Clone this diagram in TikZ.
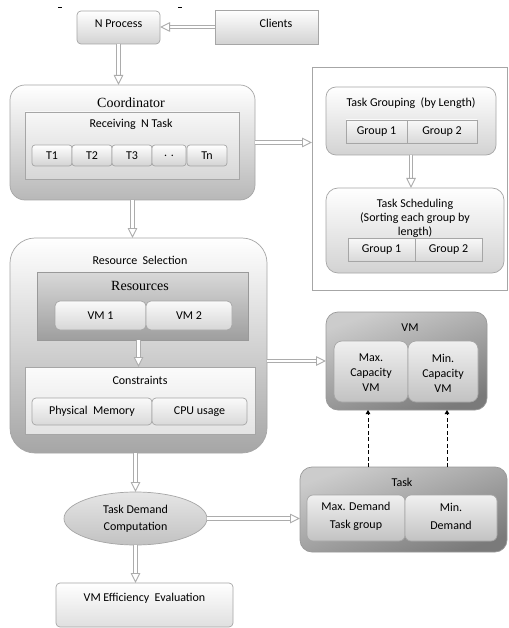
\documentclass[tikz,border=0pt]{standalone}
\usepackage{fontspec}
\setmainfont{Carlito}
\newfontfamily\serifx{Liberation Serif}
\usetikzlibrary{arrows.meta,shapes.geometric}
\newcommand\darr[2]{%
  \draw[gray!65, line width=0.9pt, double=white, double distance=2.4pt, shorten >=7pt] #1 -- #2;
  \draw[white, line width=0.2pt, -{Triangle[open, color=gray!65, fill=white, length=10pt, width=9.5pt, line width=0.9pt]}] #1 -- #2;}
\begin{document}
\begin{tikzpicture}[x=1pt,y=-1pt,
  lbox/.style={draw=gray!70, line width=0.7pt, top color=white, bottom color=gray!35, inner sep=0pt, outer sep=0pt},
  dbox/.style={draw=gray!80, line width=0.7pt, top color=gray!25, bottom color=gray!60, inner sep=0pt, outer sep=0pt},
  inbox/.style={lbox, top color=black!6, bottom color=black!24},
  txt/.style={font=\fontsize{12}{14}\selectfont, inner sep=0pt, align=center},
  stxt/.style={font=\serifx\fontsize{14}{16}\selectfont, inner sep=0pt},
  dash arrow/.style={black, line width=0.9pt, dashed, dash pattern=on 4pt off 2.5pt, -{Triangle[length=4pt,width=4.5pt]}}]
\useasboundingbox (0,0) rectangle (508,628);
\fill[white] (0,0) rectangle (508,628);
% small marks at the top
\draw[black, line width=0.8pt] (58,7) -- (62,7);
\draw[black, line width=0.8pt] (178,7) -- (182,7);

% top row
\node[lbox, rounded corners=4pt, minimum width=83pt, minimum height=33pt] (nproc) at (118.5,27.5) {};
\node[txt] at (118.5,24) {N Process};
\node[lbox, minimum width=103pt, minimum height=34pt] (clients) at (266.5,27) {};
\node[txt] at (276,23) {Clients};

% coordinator
\node[lbox, rounded corners=15pt, bottom color=black!28, minimum width=245pt, minimum height=115pt] (coord) at (132.5,142.5) {};
\node[stxt] at (131,103) {Coordinator};
\node[lbox, top color=gray!6, bottom color=gray!32, minimum width=214pt, minimum height=67pt] (recv) at (132,145.5) {};
\node[txt] at (131,124) {Receiving\ \ N Task};
\node[lbox, rounded corners=3pt, minimum width=40pt, minimum height=21pt, txt] (t1) at (52,155.5) {T1};
\node[lbox, rounded corners=3pt, minimum width=40pt, minimum height=21pt, txt] (t2) at (92,155.5) {T2};
\node[lbox, rounded corners=3pt, minimum width=40pt, minimum height=21pt, txt] (t3) at (132,155.5) {T3};
\node[lbox, rounded corners=3pt, minimum width=34pt, minimum height=21pt, txt] (tdots) at (169,155.5) {. .};
\node[lbox, rounded corners=3pt, minimum width=40pt, minimum height=21pt, txt] (tn) at (207,155.5) {Tn};

% right group frame
\node[draw=gray!70, line width=0.7pt, fill=white, minimum width=195pt, minimum height=223pt, inner sep=0pt, outer sep=0pt] (outer) at (409.5,178.5) {};
\node[lbox, rounded corners=10pt, minimum width=170pt, minimum height=68pt] (tg) at (411,121) {};
\node[txt] at (411,103) {Task Grouping\ \ (by Length)};
\node[lbox, top color=gray!5, bottom color=gray!30, minimum width=61pt, minimum height=23pt, txt] (g1a) at (376.5,131.5) {Group 1};
\node[lbox, top color=gray!5, bottom color=gray!30, minimum width=70pt, minimum height=23pt, txt] (g2a) at (442,131.5) {Group 2};
\node[lbox, rounded corners=12pt, minimum width=178pt, minimum height=85pt] (ts) at (415,230.5) {};
\node[txt] at (415,218) {Task Scheduling\\(Sorting each group by\\length)};
\node[lbox, top color=gray!5, bottom color=gray!30, minimum width=67pt, minimum height=23pt, txt] (g1b) at (381.5,249.5) {Group 1};
\node[lbox, top color=gray!5, bottom color=gray!30, minimum width=67pt, minimum height=23pt, txt] (g2b) at (448.5,249.5) {Group 2};

% resource selection
\node[lbox, rounded corners=25pt, bottom color=black!35, minimum width=257pt, minimum height=215pt] (ressel) at (138.5,345.5) {};
\node[txt] at (140,260) {Resource\ \ Selection};
\node[dbox, top color=black!15, bottom color=black!38, minimum width=211pt, minimum height=68pt] (res) at (142.5,306) {};
\node[stxt] at (140,286) {Resources};
\node[lbox, rounded corners=5pt, top color=gray!4, bottom color=gray!32, minimum width=91pt, minimum height=29pt, txt] (vm1) at (100.5,315.5) {VM 1};
\node[lbox, rounded corners=5pt, top color=gray!4, bottom color=gray!32, minimum width=86pt, minimum height=29pt, txt] (vm2) at (189,315.5) {VM 2};
\node[lbox, top color=gray!3, bottom color=gray!22, minimum width=230pt, minimum height=67pt] (cons) at (140,400.5) {};
\node[txt] at (140,380) {Constraints};
\node[lbox, rounded corners=4pt, top color=gray!4, bottom color=gray!30, minimum width=120pt, minimum height=27pt, txt] (pmem) at (92,411.5) {Physical\ \ Memory};
\node[lbox, rounded corners=4pt, top color=gray!4, bottom color=gray!30, minimum width=95pt, minimum height=27pt, txt] (cpu) at (199.5,411.5) {CPU usage};

% VM box
\node[dbox, rounded corners=12pt, top color=black!20, bottom color=black!52, shading angle=20, minimum width=161pt, minimum height=98pt] (vm) at (406.5,361) {};
\node[txt] at (410,328) {VM};
\node[inbox, rounded corners=8pt, minimum width=74pt, minimum height=61pt] (maxcap) at (371,371.5) {};
\node[txt, font=\fontsize{12}{15}\selectfont] at (371,373) {Max.\\Capacity\\VM};
\node[inbox, rounded corners=8pt, minimum width=70pt, minimum height=61pt] (mincap) at (443,371.5) {};
\node[txt, font=\fontsize{12}{15}\selectfont] at (443,373) {Min.\\Capacity\\VM};

% lower part
\node[ellipse, draw=gray!70, line width=0.7pt, top color=black!10, bottom color=black!24, minimum width=143pt, minimum height=53pt, inner sep=0pt, outer sep=0pt] (ell) at (135.5,518.5) {};
\node[txt, font=\fontsize{12}{17}\selectfont] at (135.5,519) {Task Demand\\Computation};
\node[lbox, rounded corners=4pt, top color=white, bottom color=gray!25, minimum width=177pt, minimum height=44pt] (vmee) at (144.5,605) {};
\node[txt] at (144.5,598) {VM Efficiency\ \ Evaluation};
\node[dbox, rounded corners=12pt, top color=black!20, bottom color=black!52, shading angle=20, minimum width=207pt, minimum height=85pt] (task) at (403.5,509.5) {};
\node[txt] at (402,482) {Task};
\node[inbox, rounded corners=6pt, minimum width=98pt, minimum height=46pt] (maxdem) at (356,518) {};
\node[txt, font=\fontsize{12}{18}\selectfont] at (356,516) {Max. Demand\\Task group};
\node[inbox, rounded corners=6pt, minimum width=92pt, minimum height=46pt] (mindem) at (451,518) {};
\node[txt, font=\fontsize{12}{18}\selectfont] at (451,516) {Min.\\Demand};

% connectors
\darr{(clients.west)}{(clients.west -| nproc.east)}
\darr{(nproc.south)}{(nproc.south |- coord.north)}
\darr{(coord.east)}{(coord.east -| outer.west)}
\darr{(coord.south)}{(coord.south |- ressel.north)}
\darr{(tg.south)}{(tg.south |- ts.north)}
\darr{(ressel.north |- res.south)}{(ressel.north |- cons.north)}
\darr{(vm.west -| ressel.east)}{(vm.west)}
\darr{(ell.north |- ressel.south)}{(ell.north)}
\darr{(ell.east)}{(ell.east -| task.west)}
\darr{(ell.south)}{(ell.south |- vmee.north)}
\draw[dash arrow] ([xshift=-3pt]maxcap.south |- task.north) -- ([xshift=-3pt]maxcap.south |- vm.south);
\draw[dash arrow] ([xshift=4pt]mincap.south |- task.north) -- ([xshift=4pt]mincap.south |- vm.south);
\end{tikzpicture}
\end{document}
